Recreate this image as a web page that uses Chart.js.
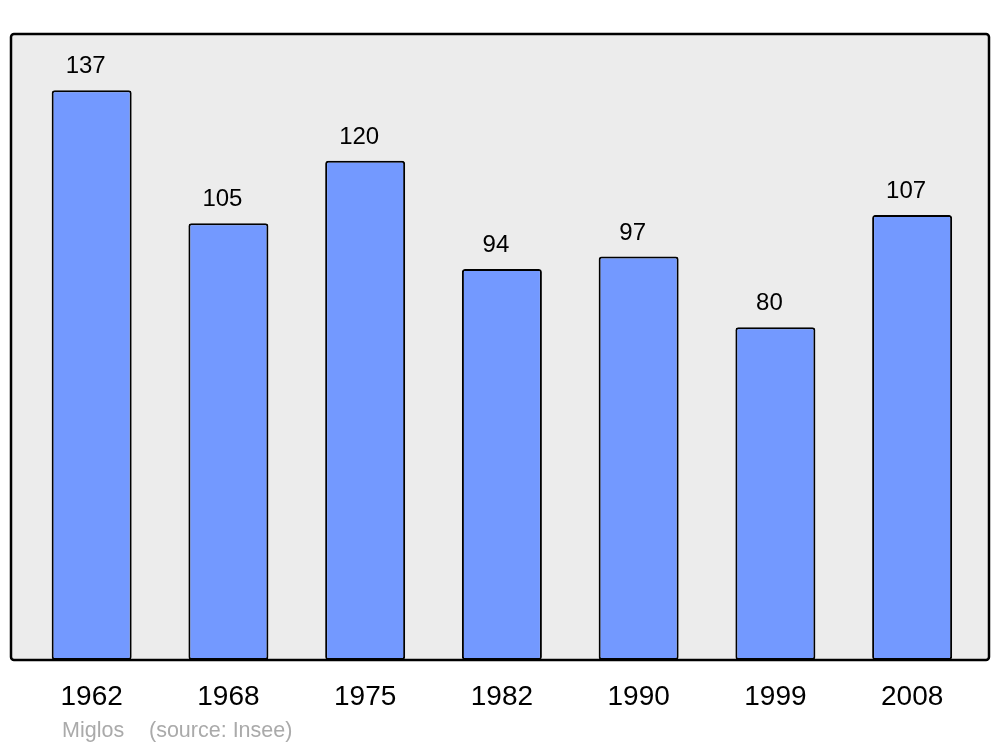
<!DOCTYPE html>
<html>
<head>
<meta charset="utf-8">
<script src="https://cdn.jsdelivr.net/npm/chart.js@4"></script>
<style>
  html, body { margin: 0; padding: 0; background: #fff; }
  #wrap { width: 1000px; height: 747px; }
</style>
</head>
<body>
<div id="wrap"><canvas id="popChart" width="1000" height="747"></canvas></div>
<script>
// Population data
const years = ['1962', '1968', '1975', '1982', '1990', '1999', '2008'];
const population = [137, 105, 120, 94, 97, 80, 107];
const commune = 'Miglos';
const sourceText = '(source: Insee)';

const FONT = '"Liberation Sans", Arial, sans-serif';

// frame, value labels, year labels and footer
const decorations = {
  id: 'decorations',
  beforeDraw(chart) {
    const ctx = chart.ctx;
    ctx.save();
    ctx.fillStyle = '#ececec';
    ctx.beginPath();
    ctx.roundRect(11, 34, 978, 626, 3);
    ctx.fill();
    ctx.restore();
  },
  afterDatasetsDraw(chart) {
    const ctx = chart.ctx;
    const xs = chart.scales.x;
    const ys = chart.scales.y;
    ctx.save();
    ctx.strokeStyle = '#000';
    ctx.lineWidth = 2.5;
    ctx.beginPath();
    ctx.roundRect(11, 34, 978, 626, 3);
    ctx.stroke();
    ctx.fillStyle = '#000';
    ctx.textAlign = 'center';
    ctx.textBaseline = 'alphabetic';
    ctx.font = '24px ' + FONT;
    population.forEach((v, i) => {
      ctx.fillText(String(v), xs.getPixelForValue(i) - 6, ys.getPixelForValue(v) - 17);
    });
    ctx.font = '28px ' + FONT;
    years.forEach((y, i) => {
      ctx.fillText(y, xs.getPixelForValue(i), 705);
    });
    ctx.fillStyle = '#aaaaaa';
    ctx.textAlign = 'left';
    ctx.font = '21.5px ' + FONT;
    ctx.fillText(commune, 62, 737);
    ctx.fillText(sourceText, 149, 737);
    ctx.restore();
  }
};

new Chart(document.getElementById('popChart'), {
  type: 'bar',
  data: {
    labels: years,
    datasets: [{
      data: population,
      backgroundColor: '#7399ff',
      borderColor: '#000',
      borderWidth: 2,
      borderRadius: 3,
      borderSkipped: false,
      categoryPercentage: 1,
      barPercentage: 0.585
    }]
  },
  options: {
    responsive: false,
    animation: false,
    layout: { padding: { left: 23.3, right: 19.5, top: 34, bottom: 87 } },
    plugins: {
      legend: { display: false },
      tooltip: { enabled: false }
    },
    scales: {
      x: { display: false },
      y: { display: false, min: 0, max: 150.5 }
    }
  },
  plugins: [decorations]
});
</script>
</body>
</html>
